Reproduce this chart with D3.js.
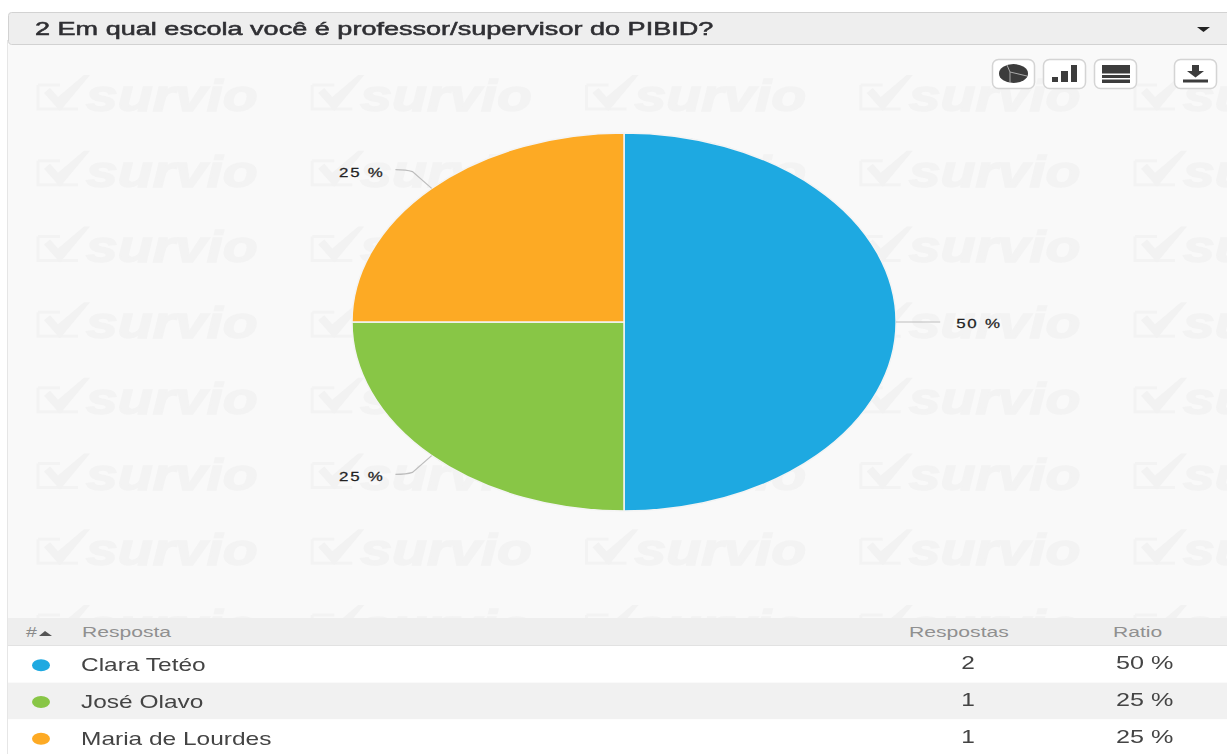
<!DOCTYPE html>
<html>
<head>
<meta charset="utf-8">
<script src="https://cdn.jsdelivr.net/npm/d3@7"></script>
<style>
	html, body { margin: 0; padding: 0; background: #fff; overflow: hidden; }
	svg { display: block; font-family: "Liberation Sans", Arial, sans-serif; filter: blur(0.45px); }
</style>
</head>
<body>
<svg id="chart" width="1227" height="754"></svg>
<script>
const title = "2 Em qual escola você é professor/supervisor do PIBID?";
const categories = ["Clara Tetéo", "José Olavo", "Maria de Lourdes"];
const counts = [2, 1, 1];
const ratios = ["50 %", "25 %", "25 %"];
const colors = ["#1ea9e1", "#88c646", "#fdaa24"];
const columns = ["Resposta", "Respostas", "Ratio"];

const svg = d3.select("#chart");
svg.append("defs").append("clipPath").attr("id", "panelClip")
	.append("rect").attr("x", 8).attr("y", 45).attr("width", 1219).attr("height", 573);

// stretched text, the screenshot is wider than it is tall
function label(parent, str, x, y, size, sx, color, opts) {
	opts = opts || {};
	return parent.append("text")
		.attr("transform", "translate(" + x + "," + y + ") scale(" + sx + ",1)")
		.attr("font-size", size)
		.attr("fill", color)
		.attr("font-weight", opts.weight || "normal")
		.attr("letter-spacing", opts.spacing || 0)
		.attr("text-anchor", opts.anchor || "start")
		.text(str);
}

// panel
svg.append("rect").attr("x", 8).attr("y", 45).attr("width", 1219).attr("height", 573).attr("fill", "#f9f9f9");
svg.append("line").attr("x1", 7.5).attr("x2", 7.5).attr("y1", 40).attr("y2", 754).attr("stroke", "#e6e6e6");

// watermark
let wmX = d3.scaleLinear().domain([0, 4]).range([36, 1133]);
let wmY = d3.scaleLinear().domain([0, 7]).range([111, 641]);
let wm = svg.append("g").attr("clip-path", "url(#panelClip)");
d3.range(5).forEach(function (i) {
	d3.range(8).forEach(function (j) {
		let g = wm.append("g").attr("transform", "translate(" + wmX(i) + "," + wmY(j) + ")");
		g.append("path")
			.attr("d", "M2,-26H24M2,-26V-2H42")
			.attr("fill", "none")
			.attr("stroke", "#f3f3f3")
			.attr("stroke-width", 3);
		g.append("path")
			.attr("d", "M8,-18L14,-23L22,-14L48,-36L54,-36L24,0z")
			.attr("fill", "#f2f2f2");
		label(g, "survio", 50, 0, 44, 1.3, "#f3f3f3", {weight: "bold"})
			.attr("font-style", "italic")
			.attr("stroke", "#f3f3f3")
			.attr("stroke-width", 1.5);
	});
});

// title bar
svg.append("rect").attr("x", 8.5).attr("y", 12.5).attr("width", 1225).attr("height", 32)
	.attr("rx", 3).attr("fill", "#eeeeee").attr("stroke", "#d2d2d2");
label(svg, title, 35, 35, 19, 1.425, "#2f2f33").attr("stroke", "#2f2f33").attr("stroke-width", 0.55);
svg.append("path").attr("d", "M1197,27h13l-6.500,5z").attr("fill", "#222");

// toolbar
let buttonX = [992, 1043, 1094, 1174];
let buttons = svg.selectAll(".btn").data(buttonX).join("g")
	.attr("class", "btn")
	.attr("transform", function (d) { return "translate(" + d + ",59)"; });
buttons.append("rect").attr("x", 0.5).attr("y", 0.5).attr("width", 42).attr("height", 29)
	.attr("rx", 6).attr("fill", "#fff").attr("stroke", "#d4d4d4").attr("stroke-width", 1.5);
let iconColor = "#3c3c3c";
d3.select(buttons.nodes()[0]).append("ellipse").attr("cx", 21.5).attr("cy", 14.5).attr("rx", 14.5).attr("ry", 9.5).attr("fill", iconColor);
d3.select(buttons.nodes()[0]).append("path").attr("d", "M18,13L15,6M18,13L35,17M18,13L18,24")
	.attr("stroke", "#aaa").attr("stroke-width", 1).attr("fill", "none");
d3.select(buttons.nodes()[1]).append("path").attr("d", "M9,18h6v5h-6zM18,12h7v11h-7zM28,6h6v17h-6z").attr("fill", iconColor);
d3.select(buttons.nodes()[2]).append("path").attr("d", "M8,6h28v8.500h-28zM8,16h28v3h-28zM8,20.500h28v3.500h-28z").attr("fill", iconColor);
d3.select(buttons.nodes()[3]).append("path").attr("d", "M18,6h7v6h5l-8.500,6.500l-8.500,-6.500h5zM9,20.500h25v3h-25z").attr("fill", iconColor);

// pie, drawn as a circle and squeezed into the stretched ellipse
const cx = 624, cy = 322, rx = 272, ry = 189;
let sx = rx / ry;
let pie = d3.pie().sort(null).value(function (d) { return d; });
let arcs = pie(counts);
let arc = d3.arc().innerRadius(0).outerRadius(ry);

let pieG = svg.append("g").attr("transform", "translate(" + cx + "," + cy + ") scale(" + sx + ",1)");
pieG.selectAll("path").data(arcs).join("path")
	.attr("d", arc)
	.attr("fill", function (d, i) { return colors[i]; })
	.attr("stroke", "#f4f4f4")
	.attr("stroke-width", 1.5)
	.attr("vector-effect", "non-scaling-stroke");

// leader lines and pie labels
let leaders = svg.append("g").attr("transform", "translate(" + cx + "," + cy + ")");
arcs.forEach(function (d, i) {
	let mid = (d.startAngle + d.endAngle) / 2;
	let ex = Math.sin(mid) * rx, ey = -Math.cos(mid) * ry;
	let bx = ex * 1.1, by = ey * 1.125;
	let dir = ex > 0 ? 1 : -1;
	let endY = by + (Math.abs(by) > 1 ? (by > 0 ? 2 : -2) : 0);
	leaders.append("path")
		.attr("d", "M" + ex + "," + ey + "L" + bx + "," + by + "Q" + (bx + dir * 6) + "," + endY + "," + (bx + dir * 17) + "," + endY)
		.attr("fill", "none")
		.attr("stroke", "#bdbdbd")
		.attr("stroke-width", 1.2);
	let tx = dir > 0 ? bx + 33 : bx - 28;
	let ty = Math.abs(by) > 1 ? endY + 7 : endY + 6;
	label(leaders, ratios[i], tx, ty, 13.5, 1.25, "#222", {
		anchor: dir > 0 ? "start" : "end",
		spacing: 1.4
	}).attr("stroke", "#222").attr("stroke-width", 0.25);
});

// table
let rowY = d3.scaleBand().domain(categories).range([646, 756]);
svg.append("rect").attr("x", 8).attr("y", 618).attr("width", 1219).attr("height", 27).attr("fill", "#eeeeee");
svg.append("line").attr("x1", 8).attr("x2", 1227).attr("y1", 645.500).attr("y2", 645.500).attr("stroke", "#e2e2e2");
label(svg, "#", 26, 637, 15, 1.3, "#8a8a8a");
svg.append("path").attr("d", "M39,636l6,-5l7,5z").attr("fill", "#555");
label(svg, columns[0], 82, 637, 15.500, 1.36, "#909090");
label(svg, columns[1], 909, 637, 15.500, 1.365, "#909090");
label(svg, columns[2], 1113, 637, 15.500, 1.36, "#909090");

let rows = svg.selectAll(".row").data(categories).join("g")
	.attr("class", "row")
	.attr("transform", function (d) { return "translate(0," + rowY(d) + ")"; });
let rowH = rowY.bandwidth();
rows.append("rect").attr("x", 8).attr("width", 1219).attr("height", rowH)
	.attr("fill", function (d, i) { return i % 2 ? "#f1f1f1" : "#fff"; });
rows.append("ellipse").attr("cx", 41).attr("cy", rowH / 2 + 1).attr("rx", 9).attr("ry", 6)
	.attr("fill", function (d, i) { return colors[i]; });
rows.each(function (d, i) {
	let row = d3.select(this);
	label(row, d, 81, rowH / 2 + 7, 17.500, 1.4, "#444");
	label(row, counts[i], 968, rowH / 2 + 5, 17.500, 1.4, "#444", {anchor: "middle"});
	label(row, ratios[i], 1116, rowH / 2 + 5, 17.500, 1.44, "#444");
});
</script>
</body>
</html>
